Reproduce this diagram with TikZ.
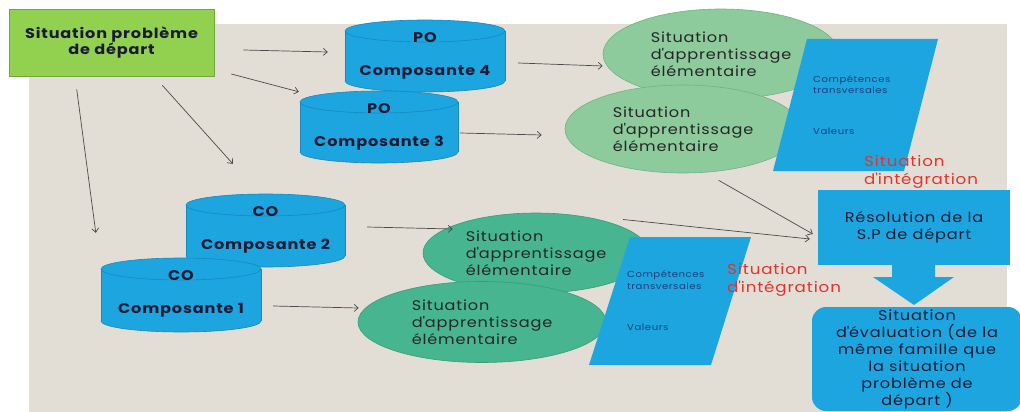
\documentclass[tikz,border=0pt]{standalone}
\usepackage{fontspec}
\setmainfont{Poppins}[FakeStretch=1.15, LetterSpace=6]
\usetikzlibrary{arrows.meta,calc,shapes.geometric}
\newcommand\ap{\textquotesingle}
\definecolor{beige}{HTML}{E3DED5}
\definecolor{gbox}{HTML}{92D050}
\definecolor{gboxd}{HTML}{6FA83A}
\definecolor{cylb}{HTML}{1DA5E0}
\definecolor{cylbd}{HTML}{1888BE}
\definecolor{ellA}{HTML}{8DCA9C}
\definecolor{ellAd}{HTML}{70B384}
\definecolor{ellB}{HTML}{47B58F}
\definecolor{ellBd}{HTML}{389C7A}
\definecolor{navy}{HTML}{1A1A35}
\definecolor{txt}{HTML}{262626}
\definecolor{ptxt}{HTML}{1F3F7A}
\definecolor{redt}{HTML}{E0342C}
\definecolor{arrowc}{HTML}{4A4A4A}
\tikzset{
  conn/.style={draw=arrowc, line width=0.7pt, -{Straight Barb[length=4pt,width=7pt]}},
  cylshape/.style={fill=cylb, draw=cylbd, line width=0.6pt},
  cylline/.style={draw=cylbd, line width=0.6pt},
  cyltext/.style={font=\fontsize{14}{16}\selectfont\bfseries, text=navy, inner sep=0},
  saeA/.style={ellipse, fill=ellA, draw=ellAd, line width=0.6pt, inner sep=0, align=left, text=txt, font=\fontsize{14}{17}\selectfont},
  saeB/.style={ellipse, fill=ellB, draw=ellBd, line width=0.6pt, inner sep=0, align=left, text=txt, font=\fontsize{14}{17}\selectfont},
  ptext/.style={anchor=west, inner sep=0, text=ptxt, font=\fontsize{8.8}{10}\selectfont},
  redtext/.style={anchor=west, inner sep=0, align=left, text=redt, font=\fontsize{14.5}{17.5}\selectfont},
  bluebox/.style={fill=cylb, inner sep=0, align=center, text=navy, font=\fontsize{14}{17}\selectfont},
}
\newcommand\mycyl[7]{%
  \pgfmathsetmacro\cx{(#2+#4)/2}%
  \pgfmathsetmacro\rx{(#4-#2)/2}%
  \pgfmathsetmacro\ya{#3+11}%
  \pgfmathsetmacro\yb{#5-11}%
  \pgfmathsetmacro\cy{(#3+#5)/2}%
  \pgfmathsetmacro\cw{#4-#2}%
  \pgfmathsetmacro\ch{#5-#3}%
  \filldraw[cylshape] (\cx,\yb) ellipse[x radius=\rx, y radius=11];
  \fill[cylb] (#2,\ya) rectangle (#4,\yb);
  \draw[cylline] (#2,\ya) -- (#2,\yb) (#4,\ya) -- (#4,\yb);
  \filldraw[cylshape] (\cx,\ya) ellipse[x radius=\rx, y radius=11];
  \node[inner sep=0, minimum width=\cw pt, minimum height=\ch pt] (#1) at (\cx,\cy) {};
  \node[cyltext] (#1-t) at (\cx,#3+18) {#6};
  \node[cyltext] (#1-b) at (\cx,#3+52) {#7};
}
\begin{document}
\begin{tikzpicture}[x=1pt,y=-1pt]
\useasboundingbox (0,0) rectangle (1020,412);
\fill[white] (0,0) rectangle (1020,412);
\fill[beige] (29,24) rectangle (1007,412);

% starting box
\node[fill=gbox, draw=gboxd, line width=0.6pt, minimum width=205pt, minimum height=67pt, inner sep=0,
      align=center, text=navy, font=\fontsize{14}{15.5}\selectfont\bfseries] (g) at (111.5,42.5)
      {Situation problème\\de départ};

% cylinders
\mycyl{c4}{345}{20}{505}{92}{PO}{Composante 4}
\mycyl{c3}{300}{91}{458}{163}{PO}{Composante 3}
\mycyl{c2}{186}{194}{345}{267}{CO}{Composante 2}
\mycyl{c1}{101}{258}{261}{332}{CO}{Composante 1}

% learning situations (top)
\node[saeA, minimum width=236pt, minimum height=90pt] (e1) at (721,54)
  {Situation\\d\ap apprentissage\\élémentaire};
\node[saeA, minimum width=236pt, minimum height=88pt] (e2) at (683,129)
  {Situation\\d\ap apprentissage\\élémentaire};
% learning situations (bottom)
\node[saeB, minimum width=226pt, minimum height=80pt] (be1) at (536,253)
  {Situation\\d\ap apprentissage\\élémentaire};
\node[saeB, minimum width=248pt, minimum height=81pt] (be2) at (482,322)
  {Situation\\d\ap apprentissage\\élémentaire};

% parallelograms
\fill[cylb] (807,39) -- (938,39) -- (904,171) -- (773,171) -- cycle;
\node[ptext] (p1a) at (813,80) {Compétences};
\node[ptext] (p1b) at (813,90) {transversales};
\node[ptext] (p1c) at (813,131) {Valeurs};
\fill[cylb] (630,237) -- (751,237) -- (711,365) -- (589,365) -- cycle;
\node[ptext] (p2a) at (627,275) {Compétences};
\node[ptext] (p2b) at (627,286) {transversales};
\node[ptext] (p2c) at (627,327) {Valeurs};

% integration labels
\node[redtext] (i1) at (864,172) {Situation\\d\ap intégration};
\node[redtext] (i2) at (727,280) {Situation\\d\ap intégration};

% resolution and evaluation
\node[bluebox, minimum width=192pt, minimum height=75pt] (res) at (914,227.5)
  {Résolution de la\\S.P de départ};
\fill[cylb] (892,264) -- (892,277) -- (873,277) -- (914,305) -- (954,277) -- (935,277) -- (935,264) -- cycle;
\node[bluebox, rounded corners=14pt, minimum width=210pt, minimum height=104pt] (ev) at (917,359)
  {Situation\\d\ap évaluation (de la\\même famille que\\la situation\\problème de\\départ )};

% connectors
\draw[conn] ($(g.east)+(29,7.5)$) -- ($(c4.west)+(-17,-4)$);
\draw[conn] ($(g.east)+(17,31.5)$) -- ($(c3.north west)+(-1,1)$);
\draw[conn] ($(g.south east)+(-52,9)$) -- ($(c2.north west)+(47,-30)$);
\draw[conn] ($(g.south west)+(68,13)$) -- ($(c1.north west)+(-5,-25)$);
\draw[conn] ($(c4.east)+(13,7)$) -- ($(e1.west)+(-0,12)$);
\draw[conn] ($(c3.east)+(2,6)$) -- ($(e2.west)+(-23,6)$);
\draw[conn] ($(c2.east)+(22,-3.5)$) -- ($(be1.west)+(30,-24)$);
\draw[conn] ($(c1.east)+(12,11)$) -- ($(be2.west)+(1,-14)$);
\draw[conn] ($(e2.south east)+(-48,20)$) -- ($(res.west)+(-5,6.5)$);
\draw[conn] ($(be1.north east)+(7,-5)$) -- ($(res.west)+(-8,11.5)$);
\end{tikzpicture}
\end{document}
